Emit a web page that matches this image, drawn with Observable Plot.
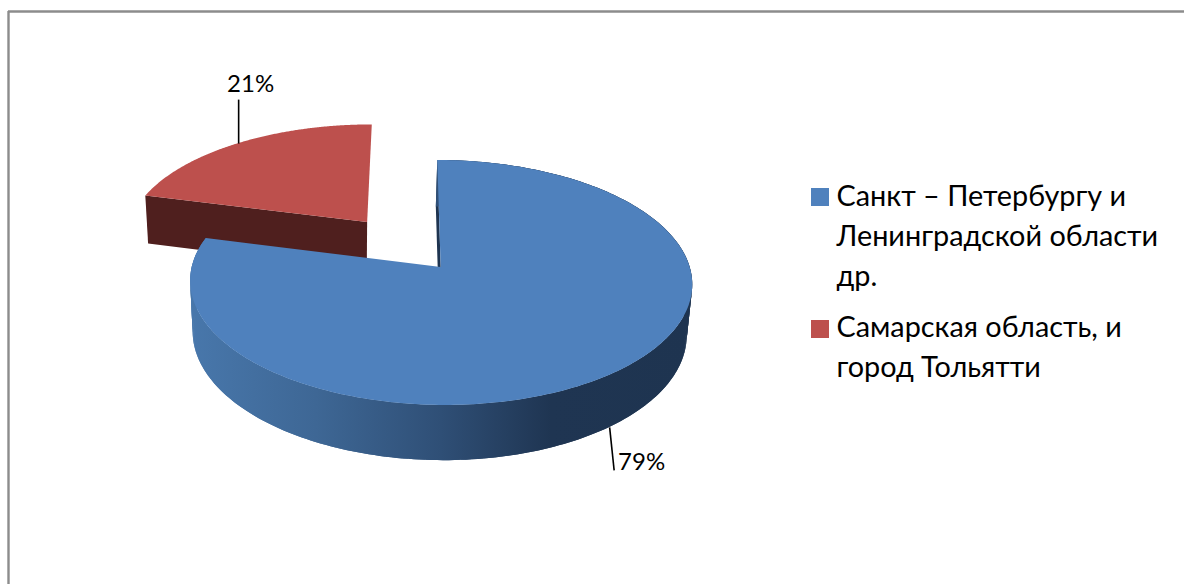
<!DOCTYPE html>
<html>
<head>
<meta charset="utf-8">
<script src="https://cdn.jsdelivr.net/npm/d3@7"></script>
<script src="https://cdn.jsdelivr.net/npm/@observablehq/plot@0.6"></script>
<style>
  html, body { margin: 0; padding: 0; background: #fff; overflow: hidden; }
</style>
</head>
<body>
<div id="chart"></div>
<script>
// Chart values
const regions = [
  "Санкт – Петербургу и\nЛенинградской области\nдр.",
  "Самарская область, и\nгород Тольятти"
];
const shares = [79, 21];
const shareLabels = ["79%", "21%"];
const topColors = ["#4f81bd", "#bd504d"];

// Canvas and pie geometry
const W = 1184, H = 584;
const pie = {
  cx: 440.7, cy: 267,    // pie centre on the page
  rx: 249, ry: 120.5,    // disc radii
  persp: 0.1266,         // foreshortening toward the back
  shear: 0.032,          // slight sideways lean of the view
  depth: 51.3,           // downward drop of the lower disc
  depthPersp: 0.016,     // shrink of the lower disc
  depthShift: -1.5,      // sideways drift of the lower disc
  explode: 0.496         // pull-out distance of the small slice
};

// Projects a ground-plane point (u right, v toward the viewer) to the page.
function project(u, v, lower = false) {
  const D = 1 - pie.persp * v + (lower ? pie.depthPersp : 0);
  const yTop = pie.ry * v;
  const y = (yTop + (lower ? pie.depth : 0)) / D;
  const x = (pie.rx * u) / D + pie.shear * (yTop / D) + (lower ? pie.depthShift : 0);
  return {x: pie.cx + x, y: pie.cy + y};
}

// Turns the shares into angle ranges, clockwise from twelve o'clock.
const total = d3.sum(shares);
let running = 0;
const slices = shares.map((value, i) => {
  const a0 = (running / total) * 2 * Math.PI;
  running += value;
  const a1 = (running / total) * 2 * Math.PI;
  return {i, a0, a1, mid: (a0 + a1) / 2};
});

const [big, small] = slices;
const offset = {
  u: Math.sin(small.mid) * pie.explode,
  v: -Math.cos(small.mid) * pie.explode
};

// Samples a rim point of a slice at angle a, with its offset from the centre.
const rim = (a, off = {u: 0, v: 0}, lower = false) =>
  project(off.u + Math.sin(a), off.v - Math.cos(a), lower);
const arcAngles = (a0, a1, n = 240) => d3.range(n + 1).map((k) => a0 + ((a1 - a0) * k) / n);

// Sector of the top face: arc on one side of the area, centre on the other.
function sector(slice, off) {
  const c = project(off.u, off.v);
  return arcAngles(slice.a0, slice.a1).map((a) => {
    const p = rim(a, off);
    return {x1: p.x, y1: p.y, x2: c.x, y2: c.y};
  });
}
// Curved side wall as overlapping strips between the upper and lower rims,
// so the straight tangent edges at the silhouette are filled as well.
function sideWall(slice, off) {
  const angles = arcAngles(slice.a0, slice.a1);
  return angles.flatMap((a, k) => {
    return angles.slice(k, k + 3).map((b) => {
      const p = rim(b, off), q = rim(b, off, true);
      return {strip: k, x1: p.x, y1: p.y, x2: q.x, y2: q.y};
    });
  });
}
// Flat cut face of a slice along the radius at angle a.
function cutFace(a, off) {
  const c = project(off.u, off.v), cl = project(off.u, off.v, true);
  const p = rim(a, off), q = rim(a, off, true);
  return [
    {x1: p.x, y1: p.y, x2: q.x, y2: q.y},
    {x1: c.x, y1: c.y, x2: cl.x, y2: cl.y}
  ];
}

const none = {u: 0, v: 0};
const areaOf = (data, fill, z) =>
  Plot.area(data, {x1: "x1", y1: "y1", x2: "x2", y2: "y2", fill, z, curve: "linear"});

// Leader lines start on the slice at its middle angle.
const bigAnchor = rim(big.mid, none, true);
const smallAnchor = rim(small.mid, offset);
const leaders = [
  {x1: bigAnchor.x, y1: bigAnchor.y, x2: bigAnchor.x + 4.5, y2: bigAnchor.y + 43},
  {x1: smallAnchor.x, y1: smallAnchor.y, x2: smallAnchor.x, y2: smallAnchor.y - 44}
];
const valueTexts = [
  {x: bigAnchor.x + 32, y: bigAnchor.y + 35, text: shareLabels[0]},
  {x: smallAnchor.x + 12, y: smallAnchor.y - 59, text: shareLabels[1]}
];

// Legend placement
const legendRows = [
  {x1: 811, x2: 829, y1: 188, y2: 206, tx: 836, ty: 177, text: regions[0], fill: topColors[0]},
  {x1: 811, x2: 829, y1: 320, y2: 338, tx: 836, ty: 308, text: regions[1], fill: topColors[1]}
];

const wallGradient = () => {
  const svgNS = "http://www.w3.org/2000/svg";
  const defs = document.createElementNS(svgNS, "defs");
  const grad = document.createElementNS(svgNS, "linearGradient");
  grad.setAttribute("id", "wallShade");
  grad.setAttribute("gradientUnits", "userSpaceOnUse");
  grad.setAttribute("x1", pie.cx - 250);
  grad.setAttribute("x2", pie.cx + 250);
  grad.setAttribute("y1", 0);
  grad.setAttribute("y2", 0);
  [[0, "#4877ab"], [0.25, "#3e6795"], [0.5, "#2f4f76"], [0.72, "#1f3552"], [1, "#1e3450"]].forEach(([o, c]) => {
    const s = document.createElementNS(svgNS, "stop");
    s.setAttribute("offset", o);
    s.setAttribute("stop-color", c);
    grad.appendChild(s);
  });
  defs.appendChild(grad);
  return defs;
};

const chart = Plot.plot({
  width: W,
  height: H,
  margin: 0,
  x: {domain: [0, W], range: [0, W], axis: null},
  y: {domain: [0, H], range: [0, H], axis: null},
  style: {background: "#fff", fontFamily: "Lato, Roboto, sans-serif"},
  marks: [
    wallGradient,
    // Outer frame of the chart area
    Plot.ruleY([11], {x1: 8, x2: W, stroke: "#8c8c8c", strokeWidth: 2.4}),
    Plot.ruleX([8], {y1: 11, y2: H, stroke: "#8c8c8c", strokeWidth: 2.4}),
    // Pulled-out slice
    areaOf(cutFace(small.a0, offset), "#4f1f1e"),
    areaOf(sector(small, offset), topColors[1]),
    // Main slice: cut face, side wall, top
    areaOf(cutFace(big.a0, none), "#1e3450"),
    areaOf(sideWall(big, none), "url(#wallShade)", "strip"),
    areaOf(sector(big, none), topColors[0]),
    // Value labels with leader lines
    Plot.link(leaders, {x1: "x1", y1: "y1", x2: "x2", y2: "y2", stroke: "#000", strokeWidth: 1.6}),
    Plot.text(valueTexts, {x: "x", y: "y", text: "text", fontSize: 24, fill: "#000", textAnchor: "middle", lineAnchor: "middle"}),
    // Legend
    Plot.rect(legendRows, {x1: "x1", x2: "x2", y1: "y1", y2: "y2", fill: "fill"}),
    Plot.text(legendRows, {x: "tx", y: "ty", text: "text", fontSize: 28.8, lineHeight: 1.39, fill: "#000", textAnchor: "start", lineAnchor: "top"})
  ]
});
document.getElementById("chart").appendChild(chart);
</script>
</body>
</html>
